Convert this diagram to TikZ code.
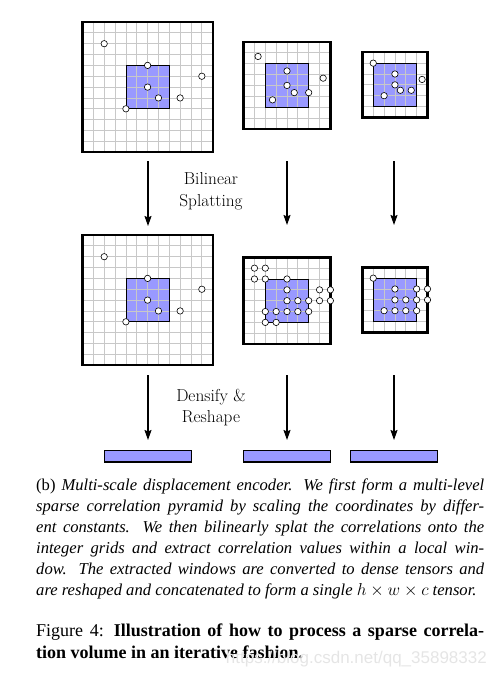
\documentclass[tikz,border=0pt]{standalone}
\usepackage{fontspec}
\newfontfamily\capfont{Liberation Serif}
\newfontfamily\wmfont{Liberation Sans}
\usetikzlibrary{arrows.meta}
\definecolor{cellblue}{RGB}{153,153,255}
\definecolor{gridgray}{RGB}{200,200,200}
\newcommand{\corrgrid}[6]{%
 \begin{scope}[shift={(#2,#3)}, x=10.85pt, y=-10.85pt]
  \fill[cellblue] (#5,#5) rectangle ++(4,4);
  \foreach \i in {0,...,#4} {
    \draw[gridgray, line width=0.8pt] (\i,0) -- (\i,#4);
    \draw[gridgray, line width=0.8pt] (0,\i) -- (#4,\i);
  }
  \draw[black, line width=0.8pt] (#5,#5) rectangle ++(4,4);
  \draw[black, line width=2.4pt] (0,0) rectangle (#4,#4);
  \foreach \px/\py in {#6}
    \filldraw[fill=white, draw=black, line width=0.6pt] (\px,\py) circle[radius=3.2pt];
  \coordinate (#1) at (#4/2,#4/2);
 \end{scope}}
\tikzset{
  arr/.style={line width=1.4pt, -{Stealth[length=10pt,width=7pt,inset=1.5pt]}},
  tensorbar/.style={draw=black, line width=1.4pt, fill=cellblue, minimum width=86.6pt, minimum height=11.3pt, inner sep=0pt},
  lab/.style={align=center, inner sep=0pt, font=\fontsize{17.3}{21.5}\selectfont}
}
\begin{document}
\begin{tikzpicture}[x=1pt, y=-1pt]
\useasboundingbox (0,0) rectangle (497,677);
% row 1
\corrgrid{g11}{82.5}{22}{12}{4}{2/2, 6/4, 11/5, 6/6, 7/7, 9/7, 4/8}
\corrgrid{g12}{243.6}{42}{8}{2}{1.333/1.333, 4/2.667, 7.333/3.333, 4/4, 4.667/4.667, 6/4.667, 2.667/5.333}
\corrgrid{g13}{362.4}{52.3}{6}{1}{1/1, 3/2, 5.5/2.5, 3/3, 3.5/3.5, 4.5/3.5, 2/4}
% row 2
\corrgrid{g21}{82.5}{235}{12}{4}{2/2, 6/4, 11/5, 6/6, 7/7, 9/7, 4/8}
\corrgrid{g22}{243.6}{257.3}{8}{2}{1/1, 2/1, 1/2, 2/2, 4/2, 4/3, 4/4, 5/4, 6/4, 7/3, 8/3, 7/4, 8/4, 2/5, 3/5, 4/5, 5/5, 6/5, 2/6, 3/6}
\corrgrid{g23}{362.4}{267.3}{6}{1}{1/1, 3/2, 5/2, 6/2, 3/3, 4/3, 5/3, 6/3, 2/4, 3/4, 4/4, 5/4}
% arrow ends
\coordinate (a1s) at (148,161);   \coordinate (a1e) at (148,226);
\coordinate (a2s) at (287,161);   \coordinate (a2e) at (287,225);
\coordinate (a3s) at (394,161);   \coordinate (a3e) at (394,225);
\coordinate (b1s) at (148,375);   \coordinate (b1e) at (148,440);
\coordinate (b2s) at (287,375);   \coordinate (b2e) at (287,440);
\coordinate (b3s) at (394,375);   \coordinate (b3e) at (394,440);
\draw[arr] (a1s) -- (a1e);
\draw[arr] (a2s) -- (a2e);
\draw[arr] (a3s) -- (a3e);
\draw[arr] (b1s) -- (b1e);
\draw[arr] (b2s) -- (b2e);
\draw[arr] (b3s) -- (b3e);
% labels
\node[lab] (l1) at (211,191.5) {Bilinear\\Splatting};
\node[lab] (l2) at (211,407.5) {Densify \&\\Reshape};
% tensors
\node[tensorbar] (t1) at (148,456.3) {};
\node[tensorbar] (t2) at (287,456.3) {};
\node[tensorbar] (t3) at (394,456.3) {};
% captions
\node[anchor=base west, inner sep=0pt] (sub) at (36,490) {\parbox[t]{448pt}{\capfont\fontsize{16.6}{21}\selectfont\hyphenpenalty=10000\emergencystretch=2em
(b) \textit{Multi-scale displacement encoder. We first form a multi-level\linebreak
sparse correlation pyramid by scaling the coordinates by differ-\linebreak
ent constants. We then bilinearly splat the correlations onto the\linebreak
integer grids and extract correlation values within a local win-\linebreak
dow. The extracted windows are converted to dense tensors and\linebreak
are reshaped and concatenated to form a single $h\times w\times c$ tensor.}}};
\node[anchor=base west, inner sep=0pt] (fig) at (36,636) {\parbox[t]{448pt}{\capfont\fontsize{18}{22}\selectfont\hyphenpenalty=10000\emergencystretch=2em
Figure 4: \textbf{Illustration of how to process a sparse correla-\linebreak
tion volume in an iterative fashion.}}};
\node[anchor=base east, inner sep=0pt, text=gray!20] (wm) at (487,663) {\wmfont\fontsize{17}{20}\selectfont https://blog.csdn.net/qq\_35898332};
\end{tikzpicture}
\end{document}
